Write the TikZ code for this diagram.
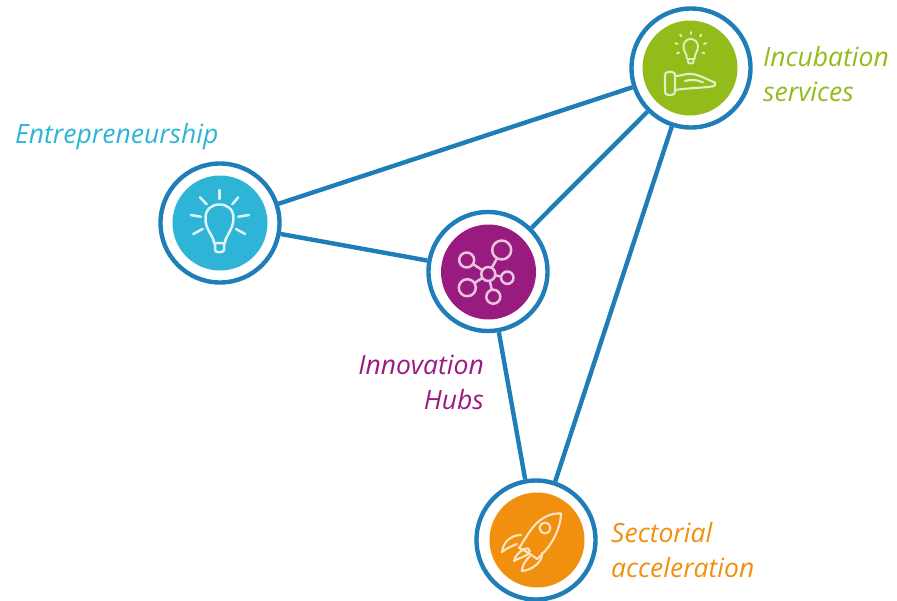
\documentclass[tikz,border=0pt]{standalone}
\usepackage{fontspec}
\setmainfont{Open Sans}
\definecolor{ringblue}{HTML}{1F7DB8}
\definecolor{cEnt}{HTML}{2DB4D6}
\definecolor{cInc}{HTML}{93BC1B}
\definecolor{cHub}{HTML}{9A1B80}
\definecolor{cSec}{HTML}{F0900E}
\tikzset{
  x=1pt,y=-1pt,
  ring/.style={circle,draw=ringblue,line width=4.4pt,fill=white,minimum size=119pt,inner sep=0pt},
  disc/.style={circle,fill=#1,minimum size=95pt,inner sep=0pt},
  link/.style={draw=ringblue,line width=4.4pt},
  lbl/.style={font=\itshape\fontsize{26.5}{35}\selectfont,inner sep=0pt,text=#1},
  ico/.style={draw=#1,line width=2.5pt,line cap=round,line join=round},
}
\begin{document}
\begin{tikzpicture}
\useasboundingbox (0,0) rectangle (897,600);
\path[clip] (0,0) rectangle (897,600);
\node[ring] (ent) at (220,223) {};
\node[ring] (hub) at (488,271.5) {};
\node[ring] (inc) at (691,68) {};
\node[ring] (sec) at (536,540) {};
\draw[link] (ent) -- (inc);
\draw[link] (ent) -- (hub);
\draw[link] (hub) -- (inc);
\draw[link] (hub) -- (sec);
\draw[link] (inc) -- (sec);
\node[disc=cEnt] (entd) at (220,223) {};
\node[disc=cHub] (hubd) at (488.5,272) {};
\node[disc=cInc] (incd) at (690,68) {};
\node[disc=cSec] (secd) at (537,540) {};
% bulb
\begin{scope}[ico=white!85!cEnt]
\draw (214,243) .. controls (214,236) and (205,230) .. (205.5,218) .. controls (205.5,209) and (212,204.5) .. (219.5,204.5) .. controls (227,204.5) and (233.5,209) .. (233.5,218) .. controls (233.5,230) and (225,236) .. (225,243) -- cycle;
\draw (215,243) -- (215,250) .. controls (215,253) and (224,253) .. (224,250) -- (224,243);
\draw (219.5,190) -- (219.5,199);
\draw (190.7,215) -- (201,216.7);
\draw (238.3,216.7) -- (249,215);
\draw (193.3,234) -- (202.7,229);
\draw (236,229) -- (245,234);
\draw (200,197.3) -- (206.7,204.3);
\draw (238.3,197.3) -- (232.3,204.3);
\end{scope}
% network
\begin{scope}[ico=white!75!cHub]
\draw (488.3,274) -- (501.7,250);
\draw (488.3,274) -- (466.7,260);
\draw (488.3,274) -- (467.3,287.7);
\draw (488.3,274) -- (507.3,277.7);
\draw (488.3,274) -- (493.3,296.7);
\draw[fill=cHub] (488.3,274) circle[radius=7];
\draw[fill=cHub] (501.7,250) circle[radius=9.5];
\draw[fill=cHub] (466.7,260) circle[radius=7.5];
\draw[fill=cHub] (467.3,287.7) circle[radius=8.5];
\draw[fill=cHub] (507.3,277.7) circle[radius=6.2];
\draw[fill=cHub] (493.3,296.7) circle[radius=7];
\end{scope}
% hand and bulb
\begin{scope}[ico=white!75!cInc]
\draw[line width=1.9pt] (687,59) .. controls (687,53) and (683.5,52) .. (683.5,46.5) .. controls (683.5,42) and (687,39) .. (690.7,39) .. controls (694.5,39) and (698,42) .. (698,46.5) .. controls (698,52) and (694.5,53) .. (694.5,59) -- cycle;
\draw[line width=1.9pt] (688,59) -- (688,62) .. controls (688,64) and (693.5,64) .. (693.5,62) -- (693.5,59);
\draw[line width=1.9pt] (690.7,32) -- (690.7,34);
\draw[line width=1.9pt] (680,34.5) -- (681.5,36.5);
\draw[line width=1.9pt] (701.5,34.5) -- (700,36.5);
\draw[line width=1.9pt] (675.5,43) -- (677.5,44);
\draw[line width=1.9pt] (706,43) -- (704,44);
\draw[line width=1.9pt] (677,53.5) -- (679,52.5);
\draw[line width=1.9pt] (704.5,53.5) -- (702.5,52.5);
\draw[line width=2.1pt] (668,72) -- (672,72) .. controls (675,72) and (675,74) .. (675,76) -- (675,91) .. controls (675,94) and (674,95) .. (671,95) -- (668,95) .. controls (665.5,95) and (665,93) .. (665,91) -- (665,76) .. controls (665,74) and (665.5,72) .. (668,72) -- cycle;
\draw[line width=2.1pt] (675,76) .. controls (682,76) and (686,73) .. (692,74) .. controls (700,75) and (708,80) .. (715,82.5) .. controls (716,84) and (715,86) .. (712,86.5) .. controls (700,88) and (688,88) .. (675,90);
\draw[line width=2.1pt] (685,81) .. controls (692,79) and (698,80) .. (703,82.5);
\end{scope}
% rocket
\begin{scope}[ico=white!75!cSec]
\draw[line width=2.1pt] (561,513.5) .. controls (552,513) and (543,516) .. (534,526) .. controls (528,533) and (524,541) .. (519,548) .. controls (524,550) and (532,555) .. (537,559) .. controls (544,553) and (551,545) .. (556,534) .. controls (559,527) and (561,520) .. (561,513.5) -- cycle;
\draw[line width=2.1pt] (545,528) circle[radius=5.5];
\draw[line width=2.1pt] (521,535) .. controls (511,535) and (503,542) .. (502,552) .. controls (507,548) and (512,546) .. (517,544);
\draw[line width=2.1pt] (542,553) .. controls (543,561) and (533,570) .. (522,571) .. controls (522,566) and (525,561) .. (530,556);
\draw[line width=2.1pt] (524,549) .. controls (528,547) and (531,550) .. (529,553) .. controls (527,556) and (519,558) .. (514,561) .. controls (515,556) and (519,552) .. (524,549) -- cycle;
\end{scope}
% labels
\node[lbl=cEnt,anchor=base west] (t1) at (15,143) {Entrepreneurship};
\node[lbl=cInc,anchor=base west,align=left] (t2) at (763,101) {Incubation\\services};
\node[lbl=cHub,anchor=base east,align=right] (t3) at (484,409) {Innovation\\Hubs};
\node[lbl=cSec,anchor=base west,align=left] (t4) at (611,577) {Sectorial\\acceleration};
\end{tikzpicture}
\end{document}
